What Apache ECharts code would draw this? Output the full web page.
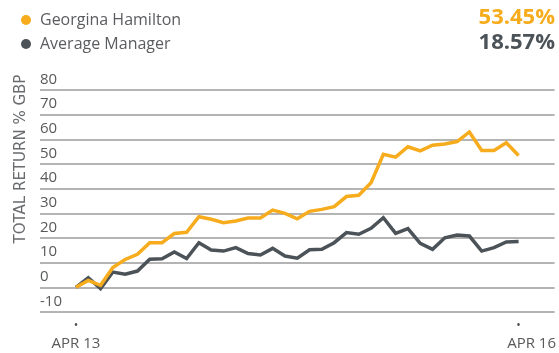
<!DOCTYPE html>
<html>
<head>
<meta charset="utf-8">
<script src="https://cdn.jsdelivr.net/npm/echarts@6/dist/echarts.min.js"></script>
<style>
  html, body { margin: 0; padding: 0; background: #fff; }
  #chart { width: 559px; height: 353px; }
</style>
</head>
<body>
<div id="chart"></div>
<script>
// Monthly cumulative total return (% GBP), April 2013 to April 2016
const seriesNames = ['Georgina Hamilton', 'Average Manager'];
const hamiltonReturns = [
  0, 2.8, 0.8, 8, 11.3, 13.4, 18.1, 18.1, 21.8, 22.3,
  28.6, 27.6, 26.2, 26.9, 28.1, 28.1, 31.3, 30.0, 27.8, 30.8,
  31.6, 32.7, 36.8, 37.3, 42.4, 53.9, 52.8, 57.0, 55.3, 57.6,
  58.1, 59.1, 63.0, 55.5, 55.5, 58.6, 53.45
];
const averageReturns = [
  0, 3.9, -0.5, 6.2, 5.3, 6.6, 11.4, 11.6, 14.3, 11.7,
  18.1, 15.1, 14.7, 16.1, 13.7, 13.1, 15.8, 12.7, 11.8, 15.2,
  15.4, 18.1, 22.2, 21.5, 23.9, 28.2, 21.9, 23.8, 17.8, 15.4,
  20.1, 21.2, 20.8, 14.7, 16.1, 18.4, 18.57
];
const xTickIndices = [0, 36];
const xTickLabels = ['APR 13', 'APR 16'];
const yTicks = [-10, 0, 10, 20, 30, 40, 50, 60, 70, 80];

const ORANGE = '#F6AC1D';
const SLATE = '#4C5358';
const FONT = '"Open Sans", "DejaVu Sans", sans-serif';

const toPairs = arr => arr.map((v, i) => [i, v]);
const lastPct = arr => arr[arr.length - 1].toFixed(2) + '%';

const chart = echarts.init(document.getElementById('chart'), null, { renderer: 'canvas' });

chart.setOption({
  animation: false,
  backgroundColor: '#ffffff',
  textStyle: { fontFamily: FONT },
  grid: { left: 40, right: 4, top: 90, bottom: 41, containLabel: false },
  legend: {
    orient: 'vertical',
    left: 16,
    top: 7,
    itemGap: 8,
    itemWidth: 10,
    itemHeight: 10,
    icon: 'circle',
    data: seriesNames,
    textStyle: { fontFamily: FONT, fontSize: 16, color: '#5b5c5f', padding: [0, 0, 0, 4] }
  },
  graphic: [
    {
      type: 'text', right: 4, top: 7,
      style: { text: lastPct(hamiltonReturns), fill: ORANGE, font: 'bold 22px ' + FONT }
    },
    {
      type: 'text', right: 4, top: 32,
      style: { text: lastPct(averageReturns), fill: SLATE, font: 'bold 22px ' + FONT }
    }
  ],
  xAxis: {
    type: 'value',
    min: -2.925,
    max: 38.925,
    axisLine: { show: false },
    axisTick: { show: false },
    splitLine: { show: false },
    axisLabel: {
      customValues: xTickIndices,
      margin: 7,
      formatter: function (v) {
        const k = xTickIndices.indexOf(Math.round(v));
        const last = k === xTickIndices.length - 1;
        return '{d|•}\n{' + (last ? 'e' : 't') + '|' + xTickLabels[k] + '}';
      },
      rich: {
        d: { fontSize: 12, lineHeight: 14, color: '#4c4c4c' },
        t: { fontSize: 15, lineHeight: 22, color: '#58595b', fontFamily: FONT },
        e: { fontSize: 15, lineHeight: 22, color: '#58595b', fontFamily: FONT, padding: [0, 0, 0, 26] }
      }
    }
  },
  yAxis: {
    type: 'value',
    min: yTicks[0],
    max: yTicks[yTicks.length - 1],
    interval: 10,
    name: 'TOTAL RETURN % GBP',
    nameLocation: 'middle',
    nameRotate: 90,
    nameGap: 8,
    nameTextStyle: { fontFamily: '"DejaVu Sans", sans-serif', fontSize: 15, color: '#6a6b6e', padding: [0, 0, 0, 84] },
    axisLine: { show: false },
    axisTick: { show: false },
    axisLabel: {
      inside: true,
      margin: 0,
      verticalAlign: 'bottom',
      padding: [0, 0, 3, 0],
      fontSize: 15,
      color: '#58595b',
      fontFamily: FONT
    },
    splitLine: { lineStyle: { color: '#9b9b9d', width: 1.5 } }
  },
  series: [
    {
      name: seriesNames[1],
      type: 'line',
      data: toPairs(averageReturns),
      showSymbol: false,
      symbol: 'none',
      color: SLATE,
      lineStyle: { color: SLATE, width: 3.5, join: 'miter' },
      z: 2
    },
    {
      name: seriesNames[0],
      type: 'line',
      data: toPairs(hamiltonReturns),
      showSymbol: false,
      symbol: 'none',
      color: ORANGE,
      lineStyle: { color: ORANGE, width: 3.5, join: 'miter' },
      z: 3
    }
  ]
});
</script>
</body>
</html>
